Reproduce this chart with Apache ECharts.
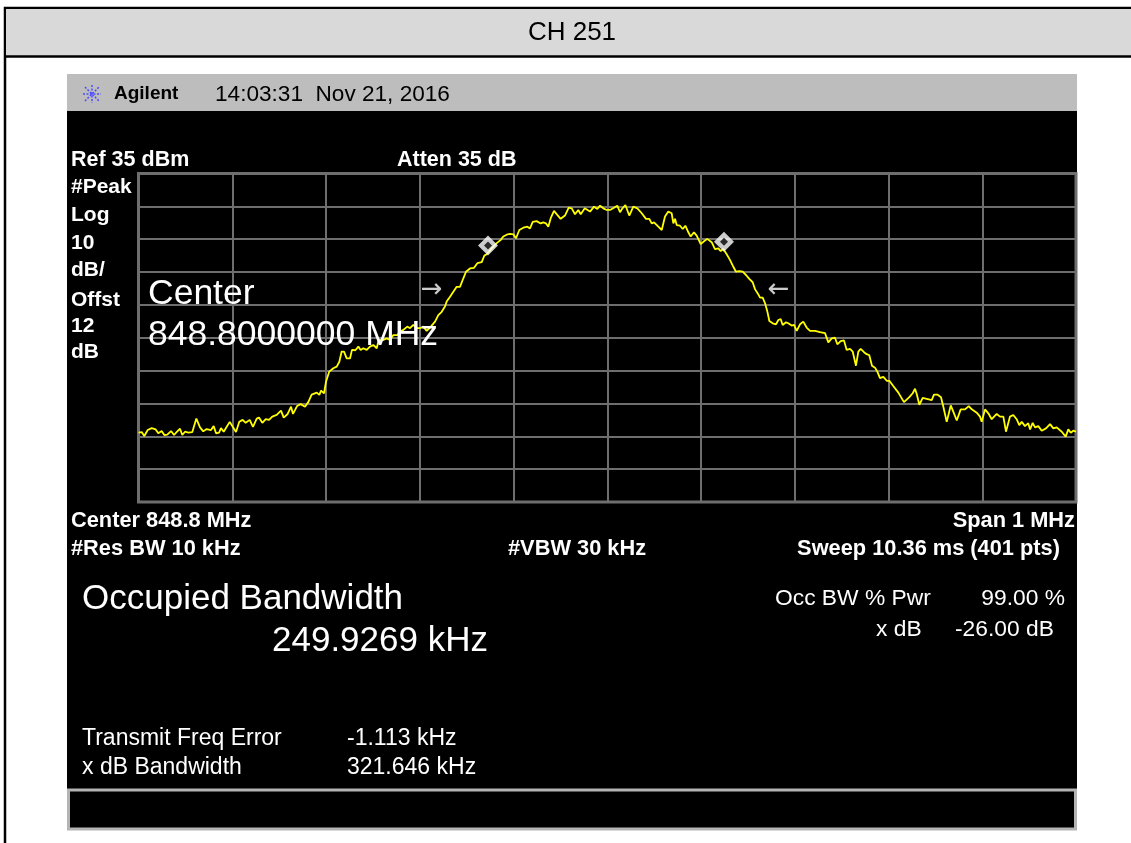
<!DOCTYPE html>
<html>
<head>
<meta charset="utf-8">
<script src="https://cdn.jsdelivr.net/npm/echarts@6/dist/echarts.min.js"></script>
<style>
html,body{margin:0;padding:0;background:#fff;}
#chart{width:1131px;height:843px;}
</style>
</head>
<body>
<div id="chart"></div>
<script>
// ---- data ----
const freqMHz = [
848.3000,848.3034,848.3062,848.3098,848.3141,848.3183,848.3211,848.3247,848.3275,848.3307,
848.3347,848.3379,848.3411,848.3443,848.3467,848.3496,848.3531,848.3574,848.3617,848.3656,
848.3691,848.3727,848.3773,848.3802,848.3827,848.3859,848.3880,848.3909,848.3941,848.3973,
848.4005,848.4040,848.4075,848.4111,848.4143,848.4186,848.4221,848.4261,848.4285,848.4321,
848.4357,848.4392,848.4427,848.4474,848.4520,848.4549,848.4591,848.4627,848.4648,848.4691,
848.4730,848.4776,848.4811,848.4847,848.4901,848.4929,848.4947,848.4979,
848.5000,848.5035,848.5078,848.5114,848.5142,848.5167,848.5192,848.5221,848.5256,848.5277,
848.5313,848.5345,848.5370,848.5398,848.5434,848.5469,848.5505,848.5541,848.5562,848.5611,
848.5648,848.5683,848.5718,848.5761,848.5789,848.5825,848.5867,848.5896,848.5931,848.5967,
848.6003,848.6038,848.6074,848.6109,848.6163,848.6198,848.6234,848.6269,848.6287,848.6323,
848.6358,848.6394,848.6429,848.6465,848.6493,848.6536,848.6579,848.6614,848.6635,848.6661,
848.6689,848.6714,848.6767,848.6821,848.6864,848.6891,848.6938,
848.6963,848.6998,848.7027,848.7062,848.7105,848.7147,848.7176,848.7205,848.7247,848.7290,
848.7318,848.7347,848.7371,848.7397,848.7432,848.7467,848.7503,848.7549,848.7589,848.7621,
848.7656,848.7691,848.7717,848.7760,848.7816,848.7859,848.7894,848.7923,848.7958,848.7994,
848.8029,848.8072,848.8107,848.8136,848.8157,848.8193,848.8235,848.8278,848.8321,848.8368,
848.8413,848.8449,848.8474,848.8499,848.8545,848.8581,848.8616,848.8651,848.8687,848.8705,
848.8723,848.8741,848.8776,848.8805,848.8833,848.8865,848.8890,848.8925,848.8954,848.8997,
848.9025,848.9067,848.9114,848.9149,848.9185,848.9210,848.9238,848.9274,848.9309,848.9345,
848.9373,848.9409,848.9445,848.9480,848.9515,848.9551,848.9576,848.9605,848.9630,848.9658,
848.9683,848.9707,848.9729,848.9765,848.9800,848.9825,848.9850,848.9871,848.9907,848.9931,
848.9967,848.9992,
849.0021,849.0056,849.0091,849.0127,849.0163,849.0216,849.0269,849.0323,849.0358,849.0394,
849.0429,849.0454,849.0490,849.0525,849.0554,849.0590,849.0618,849.0653,849.0678,849.0703,
849.0739,849.0767,849.0795,849.0824,849.0856,849.0881,849.0909,
849.0945,849.0981,849.1009,849.1051,849.1105,849.1165,849.1222,849.1258,849.1283,849.1301,
849.1329,849.1365,849.1408,849.1461,849.1485,849.1521,849.1560,849.1585,849.1621,849.1664,
849.1691,849.1728,849.1770,849.1816,849.1856,849.1888,849.1941,849.1976,849.1994,849.2030,
849.2065,849.2101,849.2154,849.2189,849.2225,849.2253,849.2296,849.2331,849.2367,849.2395,
849.2421,849.2456,849.2491,849.2510,849.2538,849.2563,849.2598,849.2634,849.2680,849.2723,
849.2758,849.2794,849.2848,849.2890,849.2918,849.2944,849.2971,849.3000
];
const levelDbm = [
-43.9,-43.7,-44.9,-43.1,-42.5,-42.9,-44.1,-43.4,-44.6,-44.5,
-43.4,-44.6,-43.6,-42.7,-44.6,-43.6,-43.9,-43.7,-39.6,-42.3,
-43.5,-42.8,-43.1,-41.9,-44.1,-43.9,-42.5,-43.6,-42.1,-40.6,
-42.1,-43.7,-40.6,-40.0,-40.9,-40.0,-42.1,-39.6,-39.3,-40.9,
-39.8,-40.0,-39.0,-38.5,-37.2,-39.3,-38.2,-36.0,-38.2,-35.8,
-35.2,-36.0,-34.6,-32.3,-31.7,-32.4,-31.1,-31.9,
-28.4,-25.3,-24.3,-23.8,-22.3,-19.2,-19.2,-21.3,-21.3,-18.7,
-18.8,-17.7,-18.7,-18.2,-18.7,-17.7,-17.2,-18.2,-15.7,-15.7,
-15.2,-15.7,-14.2,-14.2,-13.2,-12.6,-11.6,-12.1,-11.1,-12.1,
-12.1,-11.6,-12.9,-11.9,-10.1,-8.1,-7.1,-5.5,-4.0,-2.5,
-1.0,0.5,0.5,3.1,5.1,6.1,6.3,7.7,8.2,8.0,
10.0,10.4,12.2,13.8,14.8,15.8,16.5,
16.6,16.5,15.3,17.8,18.5,18.8,18.3,20.3,20.5,19.8,
20.1,19.8,18.8,21.4,23.6,22.4,21.2,22.2,24.6,24.4,
22.6,23.9,22.6,24.4,23.4,24.9,24.2,25.2,24.4,23.9,
23.9,24.6,25.2,23.2,24.2,25.4,22.2,24.9,24.4,22.9,
21.2,21.2,19.8,20.1,18.8,17.8,21.9,23.4,22.9,19.8,
21.2,19.3,19.1,18.1,19.1,17.1,15.8,17.1,16.1,13.5,
14.2,15.1,14.1,12.0,12.2,11.4,12.0,10.4,8.7,6.6,
5.1,5.3,5.1,4.1,2.9,1.9,-0.2,-1.5,-2.8,-2.8,
-4.5,-6.9,-9.9,-10.6,-10.9,-9.6,-9.3,-11.1,-10.3,-10.6,
-11.3,-11.1,
-12.9,-10.9,-10.1,-11.9,-12.9,-12.9,-13.3,-13.6,-16.4,-15.2,
-15.0,-17.0,-16.0,-15.8,-18.7,-18.4,-19.2,-23.5,-19.2,-18.4,
-19.4,-20.0,-20.3,-23.5,-24.1,-25.3,-27.3,
-26.9,-28.1,-28.1,-29.7,-31.7,-34.6,-33.1,-31.9,-30.5,-32.1,
-35.4,-33.3,-33.6,-34.0,-32.3,-32.3,-33.1,-36.0,-40.6,-35.6,
-37.5,-40.2,-36.8,-36.8,-35.8,-36.8,-37.8,-39.0,-40.6,-36.8,
-38.0,-39.8,-38.2,-39.0,-39.0,-43.6,-39.0,-38.5,-39.8,-41.6,
-40.6,-41.9,-41.0,-42.9,-40.9,-42.3,-41.9,-43.3,-42.6,-41.3,
-42.6,-42.3,-43.6,-45.1,-42.9,-43.9,-43.3,-43.6
];
const markerFreq = [848.6728, 848.9245];
const markerLevel = [13.1, 14.2];
const obwArrowFreq = [848.6128, 848.9829];
const obwArrowLevel = [-0.4, -0.4];
const obwArrowGlyph = ['\u2192', '\u2190'];

const refLevel = 35;      // dBm, top of screen
const dbPerDiv = 10;
const divisions = 10;
const startMHz = 848.3, stopMHz = 849.3;

const titleText = 'CH 251';
const timeStamp = '14:03:31  Nov 21, 2016';
const leftColumn = ['#Peak','Log','10','dB/','Offst','12','dB'];

// ---- build ----
const FONT = "'Liberation Sans', Arial, Helvetica, sans-serif";
const trace = freqMHz.map((f, i) => [f, levelDbm[i]]);
const markers = markerFreq.map((f, i) => [f, markerLevel[i]]);
const arrows = obwArrowFreq.map((f, i) => ({value: [f, obwArrowLevel[i]], glyph: obwArrowGlyph[i]}));

function txt(x, y, text, size, opts) {
  opts = opts || {};
  return {
    type: 'text', x: x, y: y, z: 100,
    style: {
      text: text,
      font: (opts.bold ? 'bold ' : '') + size + 'px ' + FONT,
      fill: opts.color || '#fff',
      align: opts.align || 'left',
      verticalAlign: 'middle'
    }
  };
}

const graphics = [
  // outer page frame
  {type:'rect', z:-20, shape:{x:5, y:8, width:1140, height:900}, style:{fill:'#fff', stroke:'#000', lineWidth:2.5}},
  {type:'rect', z:-19, shape:{x:6, y:9, width:1130, height:47}, style:{fill:'#d9d9d9'}},
  {type:'line', z:-18, shape:{x1:5, y1:56.5, x2:1131, y2:56.5}, style:{stroke:'#000', lineWidth:2.5}},
  // instrument screen
  {type:'rect', z:-17, shape:{x:67, y:74, width:1010, height:38}, style:{fill:'#bdbdbd'}},
  {type:'rect', z:-17, shape:{x:67, y:111, width:1010, height:678}, style:{fill:'#000'}},
  {type:'rect', z:-17, shape:{x:68.5, y:790, width:1007, height:39}, style:{fill:'#000', stroke:'#b4b4b4', lineWidth:3}},
  // Agilent starburst
  {type:'group', x:92, y:94, z:50, children:[
    {type:'line', shape:{x1:-9, y1:0, x2:9, y2:0}, style:{stroke:'#4b4bff', lineWidth:1.5, lineDash:[2,1.5]}},
    {type:'line', shape:{x1:0, y1:-9, x2:0, y2:9}, style:{stroke:'#4b4bff', lineWidth:1.5, lineDash:[2,1.5]}},
    {type:'line', shape:{x1:-7, y1:-7, x2:7, y2:7}, style:{stroke:'#4b4bff', lineWidth:1.5, lineDash:[2,1.5]}},
    {type:'line', shape:{x1:-7, y1:7, x2:7, y2:-7}, style:{stroke:'#4b4bff', lineWidth:1.5, lineDash:[2,1.5]}}
  ]},
  txt(572, 33, titleText, 26, {color:'#000', align:'center'}),
  txt(114, 94, 'Agilent', 19, {bold:true, color:'#000'}),
  txt(215, 95, timeStamp, 22.6, {color:'#000'}),
  txt(71, 160, 'Ref 35 dBm', 21.5, {bold:true}),
  txt(397, 160, 'Atten 35 dB', 21.5, {bold:true}),
  txt(148, 294, 'Center', 35.5),
  txt(148, 335, '848.8000000 MHz', 35.5),
  txt(71, 521, 'Center 848.8 MHz', 21.8, {bold:true}),
  txt(1075, 521, 'Span 1 MHz', 21.8, {bold:true, align:'right'}),
  txt(71, 549, '#Res BW 10 kHz', 21.8, {bold:true}),
  txt(508, 549, '#VBW 30 kHz', 21.8, {bold:true}),
  txt(1060, 549, 'Sweep 10.36 ms (401 pts)', 21.8, {bold:true, align:'right'}),
  txt(82, 599, 'Occupied Bandwidth', 35),
  txt(272, 641, '249.9269 kHz', 35),
  txt(775, 599, 'Occ BW % Pwr', 22.8),
  txt(1065, 599, '99.00 %', 22.8, {align:'right'}),
  txt(876, 630, 'x dB', 22.8),
  txt(955, 630, '-26.00 dB', 22.8),
  txt(82, 739, 'Transmit Freq Error', 23),
  txt(347, 739, '-1.113 kHz', 23),
  txt(82, 768, 'x dB Bandwidth', 23),
  txt(347, 768, '321.646 kHz', 23)
];
const colYs = [187, 215, 243, 270, 300, 326, 352];
leftColumn.forEach((t, i) => graphics.push(txt(71, colYs[i], t, 21, {bold:true})));

const gridLine = {show:true, lineStyle:{color:'#6e6e6e', width:2}};
const chart = echarts.init(document.getElementById('chart'));
chart.setOption({
  animation: false,
  backgroundColor: '#fff',
  grid: {left:138.5, top:173.5, width:937.5, height:328.5, show:true, borderColor:'#6e6e6e', borderWidth:3, backgroundColor:'transparent'},
  xAxis: [
    {type:'value', min:startMHz, max:stopMHz, show:false},
    {type:'value', min:0, max:divisions, interval:1, axisLine:{show:false}, axisTick:{show:false}, axisLabel:{show:false}, splitLine:gridLine}
  ],
  yAxis: [
    {type:'value', min:refLevel - dbPerDiv*divisions, max:refLevel, show:false},
    {type:'value', min:0, max:divisions, interval:1, axisLine:{show:false}, axisTick:{show:false}, axisLabel:{show:false}, splitLine:gridLine}
  ],
  graphic: graphics,
  series: [
    {type:'line', xAxisIndex:0, yAxisIndex:0, data:trace, showSymbol:false, symbol:'none', z:3,
     lineStyle:{color:'#ffff00', width:1.8}, silent:true},
    {type:'scatter', xAxisIndex:0, yAxisIndex:0, data:markers, symbol:'diamond', symbolSize:20, z:5,
     itemStyle:{color:'#ffffff'}, silent:true},
    {type:'scatter', xAxisIndex:0, yAxisIndex:0, data:markers, symbol:'diamond', symbolSize:8, z:6,
     itemStyle:{color:'#000000'}, silent:true},
    {type:'scatter', xAxisIndex:0, yAxisIndex:0, data:arrows, symbolSize:0, z:5, silent:true,
     label:{show:true, position:'inside', formatter:p => p.data.glyph, color:'#fff', fontSize:26, fontFamily:"'DejaVu Sans', sans-serif"}}
  ]
});
</script>
</body>
</html>
